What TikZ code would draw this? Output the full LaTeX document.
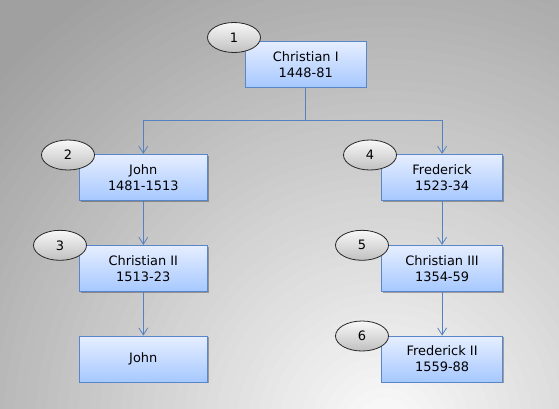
\documentclass[tikz,border=0pt]{standalone}
\usepackage{fontspec}
\setmainfont{DejaVu Sans}
\usetikzlibrary{shapes.geometric,arrows.meta,shadows}
\definecolor{boxtop}{RGB}{230,238,255}
\definecolor{boxbot}{RGB}{166,200,255}
\definecolor{boxline}{RGB}{88,134,200}
\definecolor{linkc}{RGB}{84,130,192}
\definecolor{ovtop}{RGB}{248,248,248}
\definecolor{ovbot}{RGB}{192,192,192}
\definecolor{bglight}{RGB}{252,252,252}
\definecolor{bgdark}{RGB}{160,160,160}
\begin{document}
\begin{tikzpicture}[x=1bp,y=-1bp,
  person/.style={draw=boxline, line width=0.8bp, top color=boxtop, bottom color=boxbot,
    minimum height=46bp, align=center, inner sep=0pt,
    font=\fontsize{13}{16}\selectfont,
    drop shadow={shadow xshift=1.2bp, shadow yshift=-1.2bp, opacity=0.3, fill=black}},
  wide/.style={minimum width=128bp},
  narrow/.style={minimum width=121bp},
  oval/.style={ellipse, draw=black!85, line width=0.8bp, top color=ovtop, bottom color=ovbot,
    minimum width=53bp, minimum height=30bp, inner sep=0pt,
    font=\fontsize{13}{15}\selectfont},
  link/.style={draw=linkc, line width=0.9bp, -{Straight Barb[length=7bp,width=9bp,line width=0.8bp]}}
]
\path[use as bounding box] (0,0) rectangle (559,408);
\begin{scope}
  \clip (0,0) rectangle (559,408);
  \fill[bgdark] (0,0) rectangle (559,408);
  \foreach \i in {0,...,49}{
    \pgfmathsetmacro\rr{530*(1-\i/50)}
    \pgfmathsetmacro\pp{100*(1-\i/50)}
    \fill[bgdark!\pp!bglight] (385,430) circle (\rr);
  }
\end{scope}

\node[person, narrow] (b1) at (305.75,64.2) {Christian I\\1448-81};
\node[person, wide] (b2) at (143.3,177.3) {John\\1481-1513};
\node[person, wide] (b3) at (143.3,268.3) {Christian II\\1513-23};
\node[person, wide] (b7) at (143.3,359) {John};
\node[person, narrow] (b4) at (442.1,177.3) {Frederick\\1523-34};
\node[person, narrow] (b5) at (442.1,268.3) {Christian III\\1354-59};
\node[person, narrow] (b6) at (442.1,359) {Frederick II\\1559-88};

\node[oval] (n1) at (234,37.5) {1};
\node[oval] (n2) at (68,155) {2};
\node[oval] (n3) at (60,245.3) {3};
\node[oval] (n4) at (370,155) {4};
\node[oval] (n5) at (362,245.3) {5};
\node[oval] (n6) at (362,336) {6};

\coordinate (fork) at (305.75,120.7);
\draw[link] (b1.south) -- (fork) -| (b2.north);
\draw[link] (fork) -| (b4.north);
\draw[link] (b2.south) -- (b3.north);
\draw[link] (b3.south) -- (b7.north);
\draw[link] (b4.south) -- (b5.north);
\draw[link] (b5.south) -- (b6.north);
\end{tikzpicture}
\end{document}
